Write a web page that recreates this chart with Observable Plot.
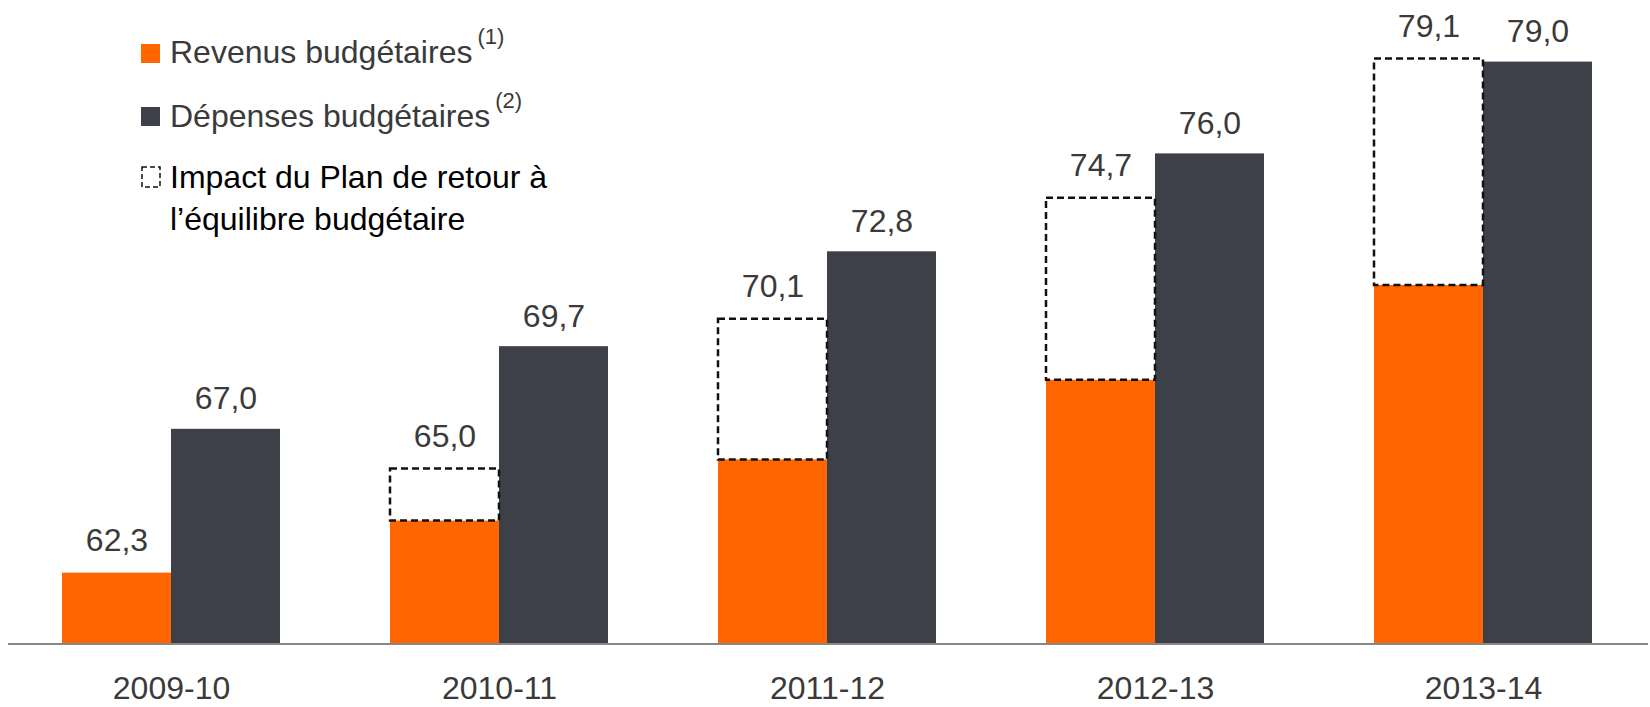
<!DOCTYPE html>
<html><head><meta charset="utf-8">
<script src="https://cdn.jsdelivr.net/npm/d3@7"></script>
<script src="https://cdn.jsdelivr.net/npm/@observablehq/plot@0.6"></script>
<style>
body{margin:0;background:#fff;}
#chart{position:relative;width:1650px;height:707px;font-family:"Liberation Sans",Arial,sans-serif;}
</style>
</head><body><div id="chart"></div>
<script>
// ---- data (milliards de dollars) ----
const years = ["2009-10", "2010-11", "2011-12", "2012-13", "2013-14"];
const revenus = [62.3, 64.0, 66.0, 68.6, 71.7];          // orange bars
const revenusAvecPlan = [null, 65.7, 70.6, 74.55, 79.1]; // top of dashed box
const etiquettesRevenus = [62.3, 65.0, 70.1, 74.7, 79.1];
const depenses = [67.0, 69.7, 72.8, 76.0, 79.0];         // dark bars
const series = ["rev", "dep"];
const legendLabels = ["Revenus budgétaires", "Dépenses budgétaires", "Impact du Plan de retour à", "l’équilibre budgétaire"];
const legendNotes = ["(1)", "(2)"];
const yBase = 60;

const orange = "#FF6600", dark = "#3D4048", textCol = "#3a3a3a";
const fmt = v => d3.format(".1f")(v).replace(".", ",");

const rows = years.map((year, i) => ({
  year, rev: revenus[i], plan: revenusAvecPlan[i], lab: etiquettesRevenus[i], dep: depenses[i]
}));

const plot = Plot.plot({
  width: 1650, height: 707,
  marginLeft: 62, marginRight: 58, marginTop: 31, marginBottom: 64,
  style: {fontFamily: "'Liberation Sans', Arial, sans-serif", fontSize: "32px", color: textCol, background: "transparent"},
  facet: {data: rows, x: "year", marginTop: 0, marginBottom: 0, marginLeft: 0, marginRight: 0},
  fx: {domain: years, paddingInner: 0.3365, paddingOuter: 0, axis: "bottom", label: null, tickSize: 0, tickPadding: 33},
  x: {domain: series, padding: 0, axis: null},
  y: {domain: [yBase, 80], axis: null},
  marks: [
    Plot.barY(rows, {x: () => "rev", y1: () => yBase, y2: "rev", fill: orange}),
    Plot.barY(rows, {x: () => "dep", y1: () => yBase, y2: "dep", fill: dark}),
    Plot.barY(rows, {x: () => "rev", y1: "rev", y2: "plan", fill: "none", stroke: "#111", strokeWidth: 2.5, strokeDasharray: "7,4"}),
    Plot.text(rows, {x: () => "rev", y: d => d.plan ?? d.rev, text: d => fmt(d.lab), dy: -22, lineAnchor: "bottom", fontSize: 32, fill: textCol}),
    Plot.text(rows, {x: () => "dep", y: "dep", text: d => fmt(d.dep), dy: -20, lineAnchor: "bottom", fontSize: 32, fill: textCol})
  ]
});

document.getElementById("chart").appendChild(plot);
const svgEl = plot.tagName.toLowerCase() === "svg" ? plot : plot.querySelector("svg");
const svg = d3.select(svgEl);
const yS = plot.scale("y");

// baseline
svg.append("line")
  .attr("x1", 8).attr("x2", 1648)
  .attr("y1", yS.apply(yBase) + 1).attr("y2", yS.apply(yBase) + 1)
  .attr("stroke", "#888").attr("stroke-width", 2);

// legend
const lg = svg.append("g").attr("font-family", "'Liberation Sans', Arial, sans-serif").attr("text-anchor", "start");
lg.append("rect").attr("x", 141).attr("y", 44).attr("width", 19).attr("height", 19).attr("fill", orange);
lg.append("rect").attr("x", 141).attr("y", 107).attr("width", 19).attr("height", 19).attr("fill", dark);
lg.append("rect").attr("x", 142).attr("y", 167).attr("width", 18).attr("height", 20)
  .attr("fill", "none").attr("stroke", "#111").attr("stroke-width", 1.5).attr("stroke-dasharray", "5,3");

[[63, 0], [127, 1]].forEach(([yy, i]) => {
  const t = lg.append("text").attr("x", 170).attr("y", yy).attr("font-size", 32).attr("fill", textCol);
  t.append("tspan").text(legendLabels[i]);
  t.append("tspan").attr("font-size", 22).attr("dx", 5).attr("dy", -19).text(legendNotes[i]);
});
lg.append("text").attr("x", 170).attr("y", 188).attr("font-size", 32).attr("fill", "#000").text(legendLabels[2]);
lg.append("text").attr("x", 170).attr("y", 230).attr("font-size", 32).attr("fill", "#000").text(legendLabels[3]);
</script>
</body></html>
